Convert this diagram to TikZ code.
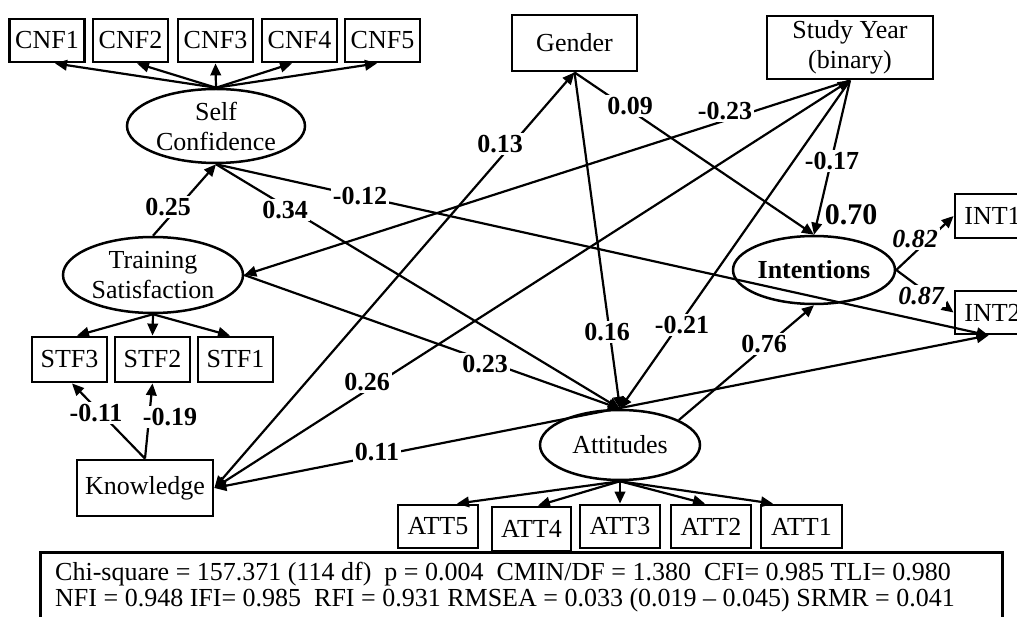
\documentclass[tikz,border=0pt]{standalone}
\usepackage{fontspec}
\setmainfont{Liberation Serif}
\usetikzlibrary{arrows.meta,shapes.geometric}
\begin{document}
\begin{tikzpicture}[x=1pt,y=-1pt,
  fnt/.style={font=\fontsize{26}{30}\selectfont},
  box/.style={draw, line width=2.8pt, rectangle, inner sep=0pt, fnt, align=center},
  lat/.style={draw, line width=2.5pt, ellipse, inner sep=0pt},
  txt/.style={fnt, align=center, inner sep=0pt},
  arr/.style={line width=2.2pt, -{Triangle[length=12pt,width=10.5pt]}},
  darr/.style={line width=2.2pt, {Triangle[length=12pt,width=10.5pt]}-{Triangle[length=12pt,width=10.5pt]}},
  lbl/.style={font=\bfseries\fontsize{26}{30}\selectfont, fill=white, inner sep=2pt},
  ilbl/.style={font=\bfseries\itshape\fontsize{26}{30}\selectfont, fill=white, inner sep=2pt},
]
\useasboundingbox (0,0) rectangle (1017,617);

% indicator boxes
\node[box, minimum width=75pt, minimum height=43pt] (cnf1) at (47,40.5) {CNF1};
\node[box, minimum width=75pt, minimum height=43pt] (cnf2) at (130.5,40.5) {CNF2};
\node[box, minimum width=75pt, minimum height=43pt] (cnf3) at (215.5,40.5) {CNF3};
\node[box, minimum width=75pt, minimum height=43pt] (cnf4) at (299.5,40.5) {CNF4};
\node[box, minimum width=75pt, minimum height=43pt] (cnf5) at (382.5,40.5) {CNF5};

\node[box, minimum width=75pt, minimum height=45pt] (stf3) at (69.5,359.5) {STF3};
\node[box, minimum width=75pt, minimum height=45pt] (stf2) at (152.5,359.5) {STF2};
\node[box, minimum width=75pt, minimum height=45pt] (stf1) at (235.5,359.5) {STF1};

\node[box, minimum width=136pt, minimum height=56pt] (know) at (145,488) {Knowledge};
\node[box, minimum width=125pt, minimum height=56pt] (gender) at (574.5,43) {Gender};
\node[box, minimum width=166pt, minimum height=63pt] (sy) at (850,47.5) {Study Year\\(binary)};

\node[box, minimum width=75pt, minimum height=44pt] (int1) at (992.5,216) {INT1};
\node[box, minimum width=75pt, minimum height=43pt] (int2) at (992.5,312.5) {INT2};

\node[box, minimum width=80pt, minimum height=43pt] (att5) at (438,526.5) {ATT5};
\node[box, minimum width=79pt, minimum height=44pt] (att4) at (531.5,529) {ATT4};
\node[box, minimum width=80pt, minimum height=43pt] (att3) at (620,526.5) {ATT3};
\node[box, minimum width=80pt, minimum height=43pt] (att2) at (711,526.5) {ATT2};
\node[box, minimum width=81pt, minimum height=43pt] (att1) at (801.5,526.5) {ATT1};

% latent variables
\node[lat, minimum width=178pt, minimum height=74pt] (sc) at (216,126) {};
\node[txt] (sctxt) at (sc.center) {Self\\Confidence};
\node[lat, minimum width=180pt, minimum height=76pt] (ts) at (153,275) {};
\node[txt] (tstxt) at (ts.center) {Training\\Satisfaction};
\node[lat, minimum width=162pt, minimum height=68pt] (int) at (814,270) {};
\node[txt, font=\bfseries\fontsize{26}{30}\selectfont] (inttxt) at (int.center) {Intentions};
\node[lat, minimum width=160pt, minimum height=70pt] (att) at (620,445) {};
\node[txt] (atttxt) at (att.center) {Attitudes};

% measurement arrows
\draw[arr] (sc.north) -- ([xshift=8pt]cnf1.south);
\draw[arr] (sc.north) -- ([xshift=6.5pt]cnf2.south);
\draw[arr] (sc.north) -- (cnf3.south);
\draw[arr] (sc.north) -- ([xshift=-7.5pt]cnf4.south);
\draw[arr] (sc.north) -- ([xshift=-5.5pt]cnf5.south);

\draw[arr] (ts.south) -- ([xshift=7.5pt]stf3.north);
\draw[arr] (ts.south) -- (stf2.north);
\draw[arr] (ts.south) -- ([xshift=-5.5pt]stf1.north);

\draw[arr] (att.south) -- ([xshift=19pt]att5.north);
\draw[arr] (att.south) -- ([xshift=6.5pt]att4.north);
\draw[arr] (att.south) -- (att3.north);
\draw[arr] (att.south) -- ([xshift=-6pt]att2.north);
\draw[arr] (att.south) -- ([xshift=-28.5pt]att1.north);

\draw[arr] (int.east) -- (int1.west);
\draw[arr] (int.east) -- (int2.west);

% structural paths
\draw[arr] (know.north) -- ([xshift=2.5pt]stf3.south);
\draw[arr] (know.north) -- (stf2.south);
\draw[arr] (ts.north) -- (sc.south);
\draw[arr] (sc.south) -- (att.north);
\draw[arr] (sc.south) -- ([xshift=35pt]int2.south west);
\draw[arr] (ts.east) -- (att.north);
\draw[arr] (gender.south) -- (att.north);
\draw[arr] (sy.south) -- (att.north);
\draw[arr] (gender.south) -- (int.north);
\draw[arr] (sy.south) -- (int.north);
\draw[arr] (sy.south) -- (ts.east);
\draw[darr] (sy.south) -- (know.east);
\draw[darr] (gender.south) -- (know.east);
\draw[darr] (know.east) -- ([xshift=35pt]int2.south west);
\draw[arr] (att.23) -- (int.south);

% coefficient labels
\node[lbl] (l025) at (168,207) {0.25};
\node[lbl] (l034) at (285,210) {0.34};
\node[lbl] (l012) at (360,196) {-0.12};
\node[lbl] (l013) at (500,144) {0.13};
\node[lbl] (l009) at (630,106) {0.09};
\node[lbl] (l023a) at (725,111) {-0.23};
\node[lbl] (l017) at (832,161) {-0.17};
\node[font=\bfseries\fontsize{30}{34}\selectfont, inner sep=1pt] (l070) at (851,215) {0.70};
\node[ilbl] (l082) at (915,239) {0.82};
\node[ilbl] (l087) at (921,296) {0.87};
\node[lbl] (l016) at (607,332) {0.16};
\node[lbl] (l021) at (682,325) {-0.21};
\node[lbl] (l076) at (764,344) {0.76};
\node[lbl] (l023) at (485,364) {0.23};
\node[lbl] (l026) at (367,382) {0.26};
\node[lbl] (l011) at (377,452) {0.11};
\node[lbl] (l011b) at (96,413) {-0.11};
\node[lbl] (l019) at (170,417) {-0.19};

% fit statistics
\node[draw, line width=2.8pt, minimum width=962pt, minimum height=80pt, anchor=north west, inner sep=0pt] (stats) at (39,551) {};
\node[fnt, anchor=base west, inner sep=0pt] (stat1) at (55,580) {Chi-square = 157.371 (114 df)\ \ p = 0.004\ \ CMIN/DF = 1.380\ \ CFI= 0.985 TLI= 0.980};
\node[fnt, anchor=base west, inner sep=0pt] (stat2) at (55,606) {NFI = 0.948 IFI= 0.985\ \ RFI = 0.931 RMSEA = 0.033 (0.019 – 0.045) SRMR = 0.041};
\end{tikzpicture}
\end{document}
